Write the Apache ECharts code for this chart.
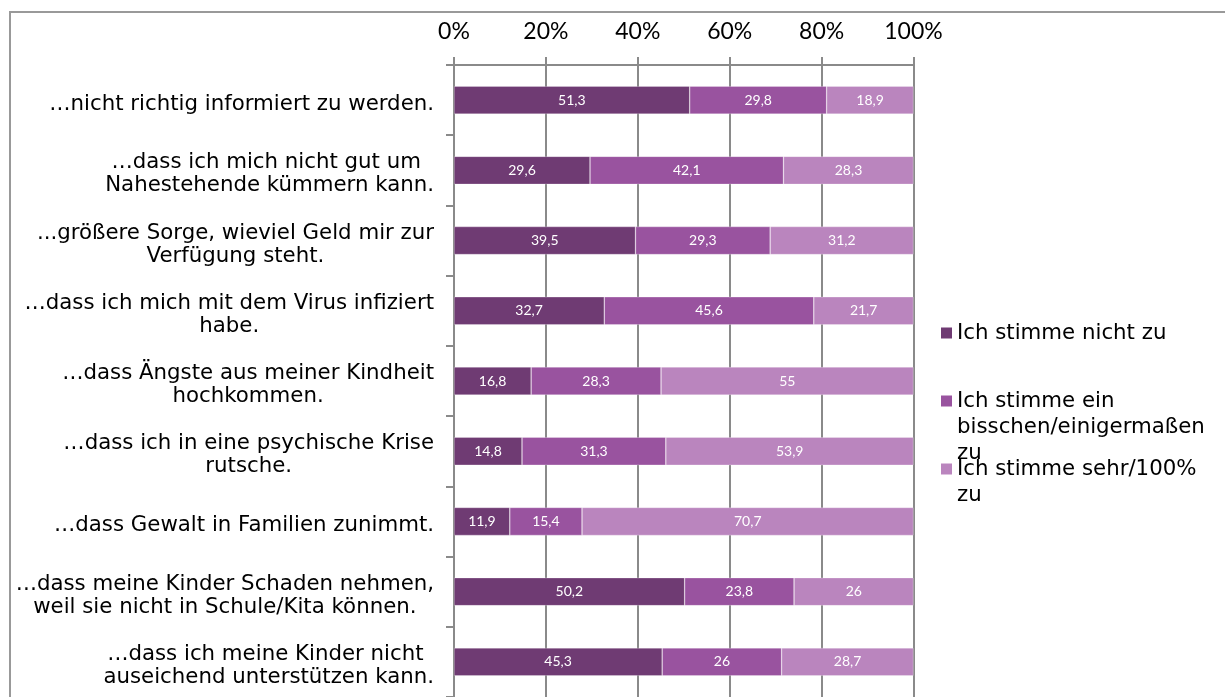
<!DOCTYPE html>
<html>
<head>
<meta charset="utf-8">
<script src="https://cdn.jsdelivr.net/npm/echarts@6/dist/echarts.min.js"></script>
<style>
    html, body { margin: 0; padding: 0; background: #fff; }
    #con { width: 1225px; height: 697px; }
</style>
</head>
<body>
<div id="con"></div>
<script>
// categories, top to bottom
var categories = [
    '…nicht richtig informiert zu werden.',
    '…dass ich mich nicht gut um \nNahestehende kümmern kann.',
    '...größere Sorge, wieviel Geld mir zur\nVerfügung steht.',
    '…dass ich mich mit dem Virus infiziert\nhabe.',
    '…dass Ängste aus meiner Kindheit\nhochkommen.',
    '…dass ich in eine psychische Krise\nrutsche.',
    '…dass Gewalt in Familien zunimmt.',
    '…dass meine Kinder Schaden nehmen,\nweil sie nicht in Schule/Kita können.',
    '…dass ich meine Kinder nicht \nauseichend unterstützen kann.'
];
var seriesNames = [
    'Ich stimme nicht zu',
    'Ich stimme ein\nbisschen/einigermaßen\nzu',
    'Ich stimme sehr/100%\nzu'
];
var nichtZu    = [51.3, 29.6, 39.5, 32.7, 16.8, 14.8, 11.9, 50.2, 45.3];
var bisschenZu = [29.8, 42.1, 29.3, 45.6, 28.3, 31.3, 15.4, 23.8, 26];
var sehrZu     = [18.9, 28.3, 31.2, 21.7, 55, 53.9, 70.7, 26, 28.7];
var tickLabels = ['0%', '20%', '40%', '60%', '80%', '100%'];

var colors = ['#6f3b73', '#99539f', '#ba85be'];
var raw = [nichtZu, bisschenZu, sehrZu];
var gray = '#8a8a8a';

// 100% stacked: each row is scaled to its own total
var totals = categories.map(function(c, i) {
    return nichtZu[i] + bisschenZu[i] + sehrZu[i];
});

var series = raw.map(function(arr, s) {
    return {
        name: seriesNames[s],
        type: 'bar',
        stack: 'all',
        barWidth: 28,
        data: arr.map(function(v, i) { return v / totals[i] * 100; }),
        itemStyle: { color: colors[s], borderColor: 'rgba(255,255,255,0.45)', borderWidth: 0.6 },
        label: {
            show: true,
            position: 'inside',
            color: '#fff',
            fontFamily: 'Lato',
            fontSize: 14,
            formatter: function(p) {
                return String(raw[p.seriesIndex][p.dataIndex]).replace('.', ',');
            }
        }
    };
});

// one legend per item so the wrapped names overlap like in the original;
// empty lines on top keep the first line level with the marker
var legendLine = 26;
var legends = seriesNames.map(function(n, i) {
    var extra = n.split('\n').length - 1;
    var centerY = 331.5 + i * 68;
    return {
        data: [{ name: n, icon: 'rect', itemStyle: { borderWidth: 0 } }],
        orient: 'vertical',
        left: 941,
        top: centerY - (2 * extra + 1) * legendLine / 2 + 1.5,
        padding: 0,
        itemWidth: 11,
        itemHeight: 11,
        selectedMode: false,
        formatter: function(name) {
            return new Array(extra + 1).join('\n') + name;
        },
        textStyle: {
            fontFamily: 'DejaVu Sans',
            fontSize: 21.3,
            color: '#000',
            lineHeight: legendLine
        }
    };
});

var myChart = echarts.init(document.getElementById('con'));
var option = {
    backgroundColor: '#fff',
    animation: false,
    graphic: [{
        type: 'rect',
        shape: { x: 10, y: 12, width: 1400, height: 900 },
        style: { fill: null, stroke: '#999', lineWidth: 2 },
        silent: true
    }],
    legend: legends,
    grid: { left: 454, top: 65, width: 459.5, height: 642 },
    xAxis: {
        type: 'value',
        position: 'top',
        min: 0,
        max: 100,
        interval: 20,
        axisLine: { show: true, lineStyle: { color: gray, width: 2 } },
        axisTick: { show: true, length: 8, lineStyle: { color: gray, width: 2 } },
        splitLine: { show: true, lineStyle: { color: gray, width: 2 } },
        axisLabel: {
            margin: 22,
            fontFamily: 'Lato',
            fontSize: 23,
            color: '#000',
            formatter: function(v) { return tickLabels[Math.round(v / 20)]; }
        }
    },
    yAxis: {
        type: 'category',
        inverse: true,
        data: categories,
        axisLine: { show: true, lineStyle: { color: gray, width: 2 } },
        axisTick: { show: true, length: 8, lineStyle: { color: gray, width: 2 } },
        axisLabel: {
            margin: 20,
            padding: [8, 0, 0, 0],
            formatter: function(v) {
                return v.split('\n').map(function(s) { return '{c|' + s + '}'; }).join('\n');
            },
            rich: {
                c: {
                    align: 'center',
                    fontFamily: 'DejaVu Sans',
                    fontSize: 21.3,
                    lineHeight: 23,
                    color: '#000'
                }
            }
        }
    },
    series: series
};
myChart.setOption(option);
</script>
</body>
</html>
